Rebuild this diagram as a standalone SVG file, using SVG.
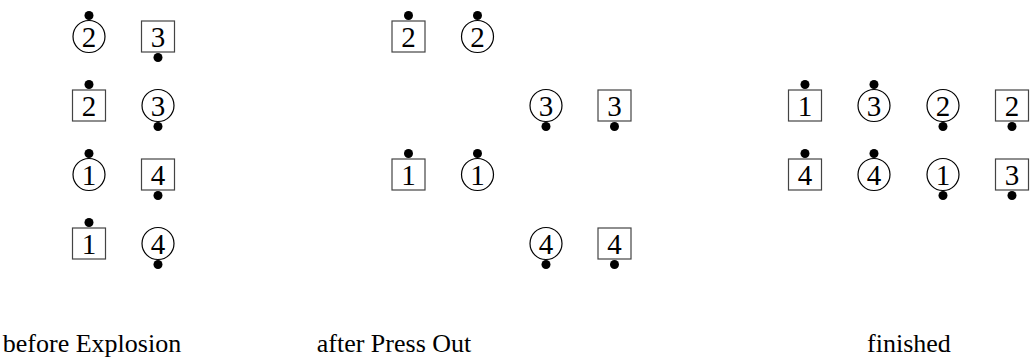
<svg xmlns="http://www.w3.org/2000/svg" width="1030" height="361" viewBox="0 0 1030 361">
<style>
.sq{fill:#fff;stroke:#444;stroke-width:1.2}
.ci{fill:#fff;stroke:#000;stroke-width:1.2}
.dot{fill:#000}
.num{font-family:"Liberation Serif","DejaVu Serif",serif;font-size:29px;text-anchor:middle;fill:#000}
.lbl{font-family:"Liberation Serif","DejaVu Serif",serif;font-size:26px;text-anchor:middle;fill:#000}
</style>
<defs>
<rect id="S" class="sq" x="-16.5" y="-15.5" width="33" height="31"/>
<circle id="C" class="ci" r="16"/>
<circle id="DU" class="dot" cx="0" cy="-21" r="4.5"/>
<circle id="DD" class="dot" cx="0" cy="21" r="4.5"/>
</defs>
<g id="connectors"/>
<!-- before Explosion -->
<g id="b-c2" transform="translate(89,36.5)"><use href="#C"/><text class="num" y="10">2</text><use href="#DU"/></g>
<g id="b-s3" transform="translate(158,36.5)"><use href="#S"/><text class="num" y="10">3</text><use href="#DD"/></g>
<g id="b-s2" transform="translate(89,105.5)"><use href="#S"/><text class="num" y="10">2</text><use href="#DU"/></g>
<g id="b-c3" transform="translate(158,105.5)"><use href="#C"/><text class="num" y="10">3</text><use href="#DD"/></g>
<g id="b-c1" transform="translate(89,174.5)"><use href="#C"/><text class="num" y="10">1</text><use href="#DU"/></g>
<g id="b-s4" transform="translate(158,174.5)"><use href="#S"/><text class="num" y="10">4</text><use href="#DD"/></g>
<g id="b-s1" transform="translate(89,243.5)"><use href="#S"/><text class="num" y="10">1</text><use href="#DU"/></g>
<g id="b-c4" transform="translate(158,243.5)"><use href="#C"/><text class="num" y="10">4</text><use href="#DD"/></g>
<!-- after Press Out -->
<g id="p-s2" transform="translate(408.5,36.5)"><use href="#S"/><text class="num" y="10">2</text><use href="#DU"/></g>
<g id="p-c2" transform="translate(477.5,36.5)"><use href="#C"/><text class="num" y="10">2</text><use href="#DU"/></g>
<g id="p-c3" transform="translate(546,105.5)"><use href="#C"/><text class="num" y="10">3</text><use href="#DD"/></g>
<g id="p-s3" transform="translate(614.5,105.5)"><use href="#S"/><text class="num" y="10">3</text><use href="#DD"/></g>
<g id="p-s1" transform="translate(408.5,174.5)"><use href="#S"/><text class="num" y="10">1</text><use href="#DU"/></g>
<g id="p-c1" transform="translate(477.5,174.5)"><use href="#C"/><text class="num" y="10">1</text><use href="#DU"/></g>
<g id="p-c4" transform="translate(546,243.5)"><use href="#C"/><text class="num" y="10">4</text><use href="#DD"/></g>
<g id="p-s4" transform="translate(614.5,243.5)"><use href="#S"/><text class="num" y="10">4</text><use href="#DD"/></g>
<!-- finished -->
<g id="f-s1" transform="translate(805,105.5)"><use href="#S"/><text class="num" y="10">1</text><use href="#DU"/></g>
<g id="f-c3" transform="translate(874,105.5)"><use href="#C"/><text class="num" y="10">3</text><use href="#DU"/></g>
<g id="f-c2" transform="translate(943,105.5)"><use href="#C"/><text class="num" y="10">2</text><use href="#DD"/></g>
<g id="f-s2" transform="translate(1012,105.5)"><use href="#S"/><text class="num" y="10">2</text><use href="#DD"/></g>
<g id="f-s4" transform="translate(805,174.5)"><use href="#S"/><text class="num" y="10">4</text><use href="#DU"/></g>
<g id="f-c4" transform="translate(874,174.5)"><use href="#C"/><text class="num" y="10">4</text><use href="#DU"/></g>
<g id="f-c1" transform="translate(943,174.5)"><use href="#C"/><text class="num" y="10">1</text><use href="#DD"/></g>
<g id="f-s3" transform="translate(1012,174.5)"><use href="#S"/><text class="num" y="10">3</text><use href="#DD"/></g>
<!-- labels -->
<g id="labels">
<text class="lbl" x="92" y="352">before Explosion</text>
<text class="lbl" x="394" y="352">after Press Out</text>
<text class="lbl" x="909" y="352">finished</text>
</g>
</svg>
